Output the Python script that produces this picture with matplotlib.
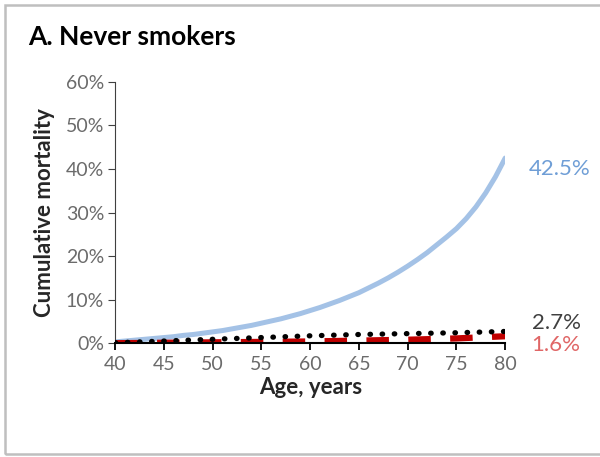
import matplotlib.pyplot as plt
from matplotlib.patches import Rectangle
from matplotlib.ticker import PercentFormatter

plt.rcParams['font.family'] = ['Lato', 'DejaVu Sans']

# cumulative mortality (%) by age
ages = list(range(40, 81))
current = [0.3, 0.5, 0.7, 0.9, 1.1, 1.3, 1.5, 1.8, 2.0, 2.3,
           2.6, 2.9, 3.3, 3.7, 4.1, 4.6, 5.1, 5.6, 6.2, 6.8,
           7.5, 8.2, 9.0, 9.8, 10.7, 11.6, 12.7, 13.8, 15.0, 16.3,
           17.7, 19.2, 20.8, 22.6, 24.4, 26.3, 28.6, 31.3, 34.5, 38.2,
           42.5]
ages5 = [40, 45, 50, 55, 60, 65, 70, 75, 80]
quit_early = [0.1, 0.5, 0.9, 1.3, 1.7, 2.0, 2.2, 2.4, 2.7]
never = [0.0, 0.1, 0.2, 0.3, 0.4, 0.6, 0.8, 1.1, 1.6]

x_ticks = [40, 45, 50, 55, 60, 65, 70, 75, 80]
y_ticks = [0, 10, 20, 30, 40, 50, 60]

fig = plt.figure(figsize=(6.0, 4.57), dpi=100)
ax = fig.add_axes([0.192, 0.249, 0.65, 0.572])

ax.plot(ages, current, color='#a4c2e6', lw=3.6, solid_capstyle='round', zorder=2)
ax.plot(ages5, quit_early, color='black', lw=3.8, linestyle=(0, (0.1, 2.2)),
        dash_capstyle='round', zorder=3)
ax.plot(ages5, never, color='#c00000', lw=4.5, linestyle=(0, (3.6, 3.1)), zorder=2)

ax.set_xlim(40, 80)
ax.set_ylim(0, 60)
ax.set_xticks(x_ticks)
ax.set_yticks(y_ticks)
ax.yaxis.set_major_formatter(PercentFormatter(decimals=0))

for s in ['top', 'right']:
    ax.spines[s].set_visible(False)
ax.spines['left'].set_color('#404040')
ax.spines['bottom'].set_color('black')
ax.spines['bottom'].set_linewidth(1.5)
ax.tick_params(axis='both', direction='out', length=5, labelsize=14,
               colors='#404040', pad=3)
ax.tick_params(axis='x', colors='black', width=1.3, pad=4)
for lab in ax.get_xticklabels() + ax.get_yticklabels():
    lab.set_color('#6b6b6b')

ax.set_xlabel('Age, years', fontsize=16, fontweight='bold', color='#262626', labelpad=3)
ax.set_ylabel('Cumulative mortality', fontsize=16, fontweight='bold', color='#262626', labelpad=8)

# end-of-line value labels
ax.annotate(f'{current[-1]}%', (80, current[-1]), xytext=(17, -8), textcoords='offset points',
            va='center', ha='left', fontsize=16, color='#6f9ed6', annotation_clip=False)
ax.annotate(f'{quit_early[-1]}%', (80, quit_early[-1]), xytext=(19, 6), textcoords='offset points',
            va='center', ha='left', fontsize=16, color='#404040', annotation_clip=False)
ax.annotate(f'{never[-1]}%', (80, never[-1]), xytext=(19, -6), textcoords='offset points',
            va='center', ha='left', fontsize=16, color='#e06666', annotation_clip=False)

fig.text(0.047, 0.918, 'A. Never smokers', fontsize=19, fontweight='bold', va='center', ha='left')

# panel frame
fig.patches.append(Rectangle((5 / 600, 3 / 457), 1.0, 449 / 457, transform=fig.transFigure,
                             fill=False, edgecolor='#bfbfbf', lw=1.8))

fig.savefig('out.png', dpi=100)
